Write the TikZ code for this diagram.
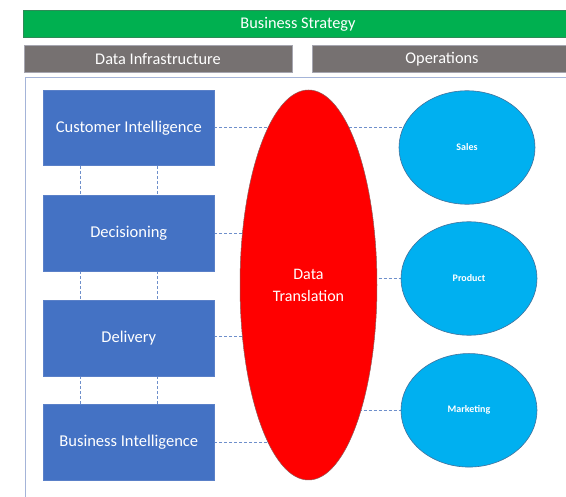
\documentclass[tikz,border=0pt]{standalone}
\usepackage{fontspec}
\setmainfont{Carlito}
\usetikzlibrary{shapes.geometric,calc}
\definecolor{bsgreen}{HTML}{00B050}
\definecolor{bsgreenedge}{HTML}{2E8B57}
\definecolor{bargray}{HTML}{767171}
\definecolor{bargrayedge}{HTML}{A6A6B0}
\definecolor{boxblue}{HTML}{4472C4}
\definecolor{boxblueedge}{HTML}{5A80C8}
\definecolor{circblue}{HTML}{00B0F0}
\definecolor{circedge}{HTML}{41719C}
\definecolor{eggred}{HTML}{FF0000}
\definecolor{eggedge}{HTML}{8C5A5A}
\definecolor{frameedge}{HTML}{A4B4D8}
\definecolor{connblue}{HTML}{6E8FCB}
\pgfdeclarelayer{bg}
\pgfsetlayers{bg,main}
\begin{document}
\begin{tikzpicture}[x=1pt,y=-1pt,
  bar/.style={rectangle, inner sep=0pt, text=white, font=\fontsize{16.3}{19}\selectfont},
  framebox/.style={rectangle, inner sep=0pt},
  frameline/.style={draw=frameedge, line width=1pt},
  bluebox/.style={rectangle, fill=boxblue, draw=boxblueedge, line width=0.6pt, inner sep=0pt,
    minimum width=170.5pt, minimum height=75.5pt, text=white, font=\fontsize{16.5}{19}\selectfont},
  oval/.style={ellipse, fill=circblue, draw=circedge, line width=0.6pt, inner sep=0pt,
    minimum width=136pt, minimum height=113.5pt, text=white, font=\fontsize{10}{12}\selectfont\bfseries},
  egg/.style={ellipse, fill=eggred, draw=eggedge, line width=0.5pt, inner sep=0pt,
    minimum width=137pt, minimum height=390pt, text=white, align=center,
    font=\fontsize{16}{22}\selectfont},
  conn/.style={draw=connblue, line width=0.8pt, dash pattern=on 3pt off 2pt}
]
\useasboundingbox (0,0) rectangle (566,497);
\clip (0,0) rectangle (566,497);
\begin{pgfonlayer}{bg}
  \fill[white] (0,0) rectangle (566,497);
\end{pgfonlayer}

% header bars
\node[bar, fill=bsgreen, draw=bsgreenedge, line width=0.5pt,
  minimum width=550pt, minimum height=27.7pt] (strategy) at (298,23.9) {Business Strategy};
\node[bar, fill=bargray, draw=bargrayedge, line width=0.6pt,
  minimum width=268pt, minimum height=27.7pt] (infra) at (158,58.9) {Data Infrastructure};
\node[bar, fill=bargray, draw=bargrayedge, line width=0.6pt,
  minimum width=260pt, minimum height=27.7pt] (ops) at (442,58.9) {Operations};

% frame (its right and bottom sides lie outside the picture)
\node[framebox, anchor=north west, minimum width=560pt, minimum height=430pt] (frame) at (25,77.3) {};
\draw[frameline] (frame.south west) -- (frame.north west) -- (frame.north east);

% left boxes
\node[bluebox] (ci)  at (128.8,127.9) {Customer Intelligence};
\node[bluebox] (dec) at (128.8,233.4) {Decisioning};
\node[bluebox] (del) at (128.8,338.2) {Delivery};
\node[bluebox] (bi)  at (128.8,442.5) {Business Intelligence};

% data translation
\node[egg] (egg) at (308.5,285) {Data\\Translation};

% right ovals
\node[oval] (sales)     at (467,147.5) {Sales};
\node[oval] (product)   at (469,278.5) {Product};
\node[oval] (marketing) at (469,410.3) {Marketing};

% connectors
\begin{pgfonlayer}{bg}
  \draw[conn] (ci.east) -- (ci.east -| sales.center);
  \draw[conn] (dec.east) -- (dec.east -| egg.center);
  \draw[conn] ([yshift=2pt]del.east) -- ([yshift=2pt]del.east -| egg.center);
  \draw[conn] (bi.east) -- (bi.east -| egg.center);
  \draw[conn] (egg.center |- product.west) -- (product.west);
  \draw[conn] (egg.center |- marketing.west) -- (marketing.west);
  \draw[conn] ([xshift=37.5pt]ci.south west) -- ([xshift=37.5pt]dec.north west);
  \draw[conn] ([xshift=114.5pt]ci.south west) -- ([xshift=114.5pt]dec.north west);
  \draw[conn] ([xshift=37.5pt]dec.south west) -- ([xshift=37.5pt]del.north west);
  \draw[conn] ([xshift=114.5pt]dec.south west) -- ([xshift=114.5pt]del.north west);
  \draw[conn] ([xshift=37.5pt]del.south west) -- ([xshift=37.5pt]bi.north west);
  \draw[conn] ([xshift=114.5pt]del.south west) -- ([xshift=114.5pt]bi.north west);
\end{pgfonlayer}
\end{tikzpicture}
\end{document}
